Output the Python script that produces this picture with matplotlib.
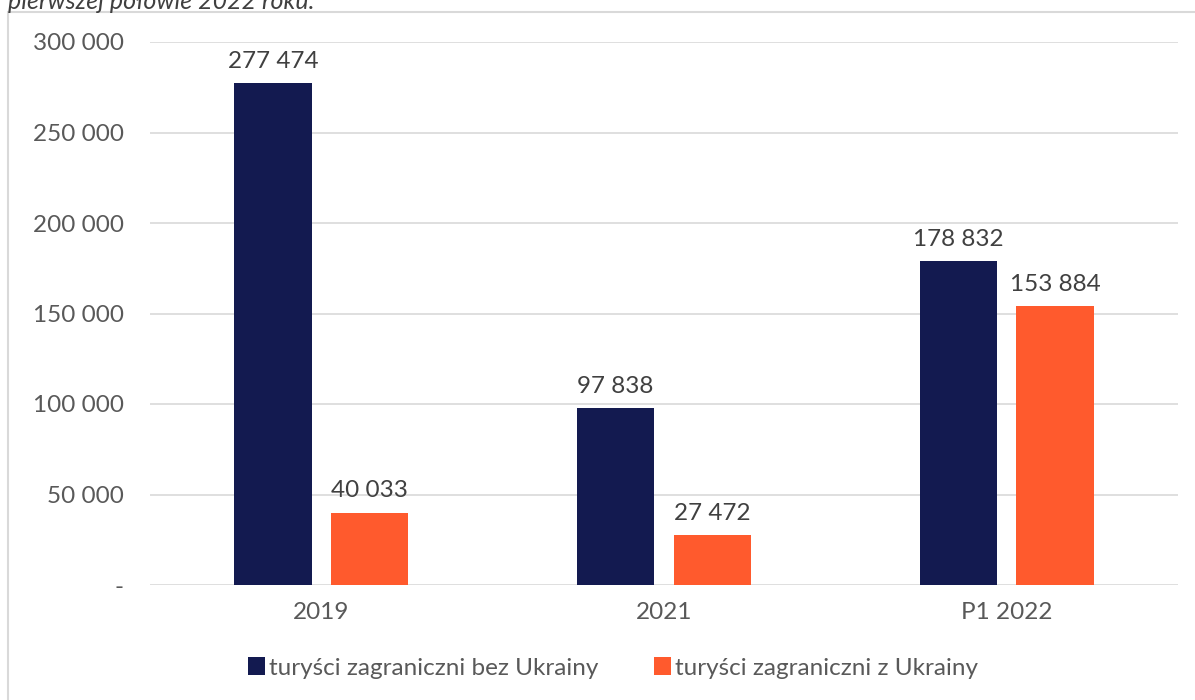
import matplotlib.pyplot as plt
import numpy as np
from matplotlib.patches import Rectangle

categories = ["2019", "2021", "P1 2022"]
bez_ukrainy = [277474, 97838, 178832]
z_ukrainy = [40033, 27472, 153884]
series_names = ["turyści zagraniczni bez Ukrainy", "turyści zagraniczni z Ukrainy"]
y_ticks = [0, 50000, 100000, 150000, 200000, 250000, 300000]

navy = "#131a50"
orange = "#ff5a2d"
grey = "#595959"
fs = 17.5

plt.rcParams["font.family"] = ["Lato", "DejaVu Sans"]

W, H = 1195, 700
fig = plt.figure(figsize=(W / 100, H / 100), dpi=100)

# outer chart frame
fig.patches.append(Rectangle((8 / W, -0.05), 1.2, 1 - 12 / H + 0.05, transform=fig.transFigure,
                             fill=False, edgecolor="#d9d9d9", linewidth=1.5))
fig.text(8 / W, 1 - 9 / H, "pierwszej połowie 2022 roku.", style="italic",
         fontsize=18, color="#404040", va="baseline", ha="left")

ax = fig.add_axes([150 / W, 1 - 585 / H, 1028 / W, 543 / H])

def fmt(v):
    return f"{v:,}".replace(",", " ")

x = np.arange(len(categories))
w = 0.225
off = 0.141
b1 = ax.bar(x - off, bez_ukrainy, w, color=navy, label=series_names[0], zorder=3)
b2 = ax.bar(x + off, z_ukrainy, w, color=orange, label=series_names[1], zorder=3)
for bars in (b1, b2):
    for r in bars:
        ax.annotate(fmt(int(r.get_height())), (r.get_x() + r.get_width() / 2, r.get_height()),
                    xytext=(0, 8), textcoords="offset points", ha="center", va="bottom",
                    fontsize=fs, color="#404040")

ax.set_xlim(-0.5, 2.5)
ax.set_ylim(0, 300000)
ax.set_yticks(y_ticks)
ax.set_yticklabels(["-"] + [fmt(v) for v in y_ticks[1:]])
ax.set_xticks(x)
ax.set_xticklabels(categories)
ax.grid(axis="y", color="#d9d9d9", linewidth=1.2, zorder=0)
ax.tick_params(length=0, labelsize=fs, labelcolor=grey)
ax.tick_params(axis="y", pad=19)
ax.tick_params(axis="x", pad=12)
for s in ax.spines.values():
    s.set_visible(False)

fig.legend(handles=[b1, b2], loc="center", bbox_to_anchor=(613 / W, 1 - 668 / H), ncol=2,
           frameon=False, fontsize=fs, labelcolor=grey, handlelength=0.7, handleheight=0.7,
           handletextpad=0.2, columnspacing=2.25)

fig.savefig("out.png", dpi=100)
